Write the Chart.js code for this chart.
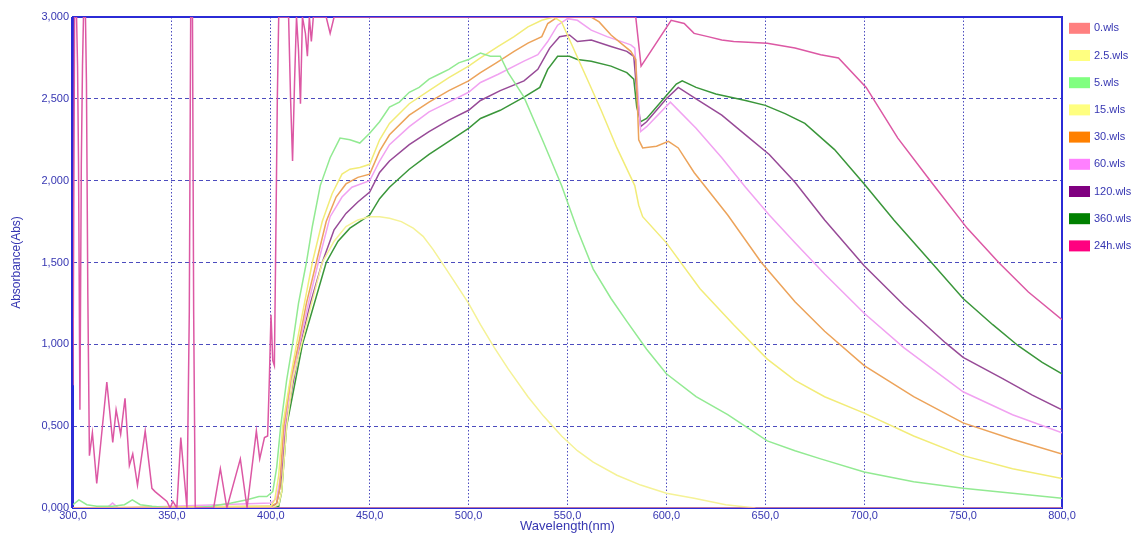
<!DOCTYPE html>
<html>
<head>
<meta charset="utf-8">
<script src="https://cdn.jsdelivr.net/npm/chart.js@4.4.0/dist/chart.umd.min.js"></script>
<style>
html, body { margin: 0; padding: 0; background: #fff; }
</style>
</head>
<body>
<canvas id="myChart" width="1136" height="535"></canvas>
<script>
// wavelength (nm) / absorbance pairs
const wl0 = [300, 800];
const abs0 = [0, 0];

const wl2_5 = [300, 350, 400, 404, 405.5, 408, 411, 415.5, 420, 426, 432, 438, 444, 450, 455, 460, 466, 472, 477, 482, 487, 493, 500, 506, 513, 520, 530, 538, 547, 555, 563, 575, 587, 600, 614, 630, 645];
const abs2_5 = [0, 0, 0, 0.02, 0.1, 0.5, 0.78, 1.0, 1.22, 1.5, 1.63, 1.72, 1.76, 1.78, 1.78, 1.77, 1.75, 1.71, 1.66, 1.58, 1.49, 1.38, 1.25, 1.12, 0.98, 0.85, 0.68, 0.56, 0.44, 0.35, 0.28, 0.20, 0.14, 0.09, 0.06, 0.02, 0];

const wl5 = [300, 303, 307, 312, 320, 326, 330, 334, 340, 350, 360, 370, 380, 388, 394, 398, 401, 403, 405, 408, 411, 414, 418, 421, 425, 430, 435, 440, 445, 450, 455, 460, 465, 470, 475, 480, 485, 490, 495, 500, 506, 511, 516, 520, 528, 538, 547, 555, 563, 572, 580, 590, 600, 615, 631, 651, 665, 678, 700, 725, 750, 775, 800];
const abs5 = [0.02, 0.05, 0.02, 0.01, 0.01, 0.02, 0.05, 0.02, 0.01, 0.0, 0.0, 0.01, 0.03, 0.05, 0.07, 0.07, 0.1, 0.25, 0.5, 0.78, 1.0, 1.25, 1.5, 1.72, 1.97, 2.14, 2.26, 2.25, 2.23, 2.29, 2.36, 2.45, 2.48, 2.54, 2.57, 2.62, 2.65, 2.68, 2.72, 2.74, 2.78, 2.76, 2.76, 2.66, 2.51, 2.23, 1.97, 1.70, 1.46, 1.28, 1.14, 0.97, 0.82, 0.68, 0.57, 0.41, 0.35, 0.30, 0.22, 0.16, 0.12, 0.09, 0.06];

const wl15 = [300, 400, 402, 404, 406, 410, 413, 417, 421, 426, 431, 436, 440, 445, 450, 455, 460, 470, 480, 490, 500, 506, 515, 523, 530, 537, 543, 547, 560, 567, 575, 584, 586, 588, 600, 617, 634, 651, 665, 680, 700, 725, 750, 775, 800];
const abs15 = [0, 0.01, 0.05, 0.2, 0.5, 0.8, 1.0, 1.25, 1.5, 1.75, 1.92, 2.04, 2.07, 2.08, 2.10, 2.25, 2.35, 2.47, 2.55, 2.63, 2.70, 2.75, 2.82, 2.88, 2.94, 2.98, 3.0, 2.97, 2.62, 2.43, 2.20, 1.97, 1.85, 1.78, 1.62, 1.34, 1.12, 0.91, 0.78, 0.68, 0.58, 0.44, 0.32, 0.24, 0.18];

const wl30 = [300, 400, 403, 404.5, 406.5, 410, 414, 418, 423, 428, 433, 438, 444, 450, 455, 460, 470, 480, 490, 500, 506, 514, 523, 530, 537, 540, 545, 562, 566, 572, 582, 584.5, 586, 588, 595, 601, 606, 614, 631, 648, 665, 680, 700, 725, 750, 775, 800];
const abs30 = [0, 0.01, 0.03, 0.12, 0.5, 0.78, 1.0, 1.25, 1.5, 1.75, 1.9, 1.98, 2.02, 2.04, 2.18, 2.28, 2.40, 2.48, 2.55, 2.61, 2.66, 2.72, 2.79, 2.84, 2.88, 2.96, 3.0, 3.0, 2.97, 2.89, 2.79, 2.74, 2.25, 2.20, 2.21, 2.24, 2.20, 2.05, 1.79, 1.50, 1.26, 1.08, 0.87, 0.68, 0.52, 0.42, 0.33];

const wl60 = [300, 317, 320, 323, 400, 403, 405, 407, 410, 414.5, 419, 424, 430, 436, 441, 450, 455, 460, 470, 480, 490, 500, 506, 515, 528, 535, 540, 545, 550, 555, 562, 570, 582, 584, 585.5, 587, 590, 602, 615, 628, 640, 652, 665, 680, 700, 720, 750, 775, 800];
const abs60 = [0, 0, 0.03, 0, 0.03, 0.06, 0.2, 0.5, 0.75, 1.0, 1.25, 1.5, 1.78, 1.90, 1.96, 2.0, 2.12, 2.22, 2.33, 2.42, 2.48, 2.54, 2.60, 2.65, 2.73, 2.77, 2.85, 2.95, 2.99, 2.98, 2.92, 2.88, 2.83, 2.81, 2.55, 2.30, 2.33, 2.48, 2.32, 2.14, 1.96, 1.79, 1.62, 1.43, 1.19, 0.98, 0.71, 0.57, 0.46];

const wl120 = [300, 400, 403, 405, 407.5, 411, 415, 420, 426, 432, 438, 444, 450, 455, 460, 470, 480, 490, 500, 506, 516, 528, 535, 541, 546, 551, 555, 562, 572, 580, 583.5, 585, 587, 590, 600, 606, 615, 628, 640, 652, 665, 680, 700, 720, 741, 750, 770, 785, 800];
const abs120 = [0, 0, 0.03, 0.15, 0.5, 0.75, 1.0, 1.25, 1.5, 1.70, 1.80, 1.87, 1.93, 2.05, 2.12, 2.22, 2.30, 2.37, 2.43, 2.49, 2.55, 2.61, 2.68, 2.81, 2.88, 2.89, 2.85, 2.86, 2.82, 2.79, 2.76, 2.55, 2.33, 2.36, 2.50, 2.57, 2.50, 2.40, 2.28, 2.16, 1.99, 1.76, 1.48, 1.24, 1.01, 0.92, 0.79, 0.69, 0.60];

const wl360 = [300, 400, 404, 405.5, 408, 412, 416, 422, 428, 434, 440, 445, 450, 455, 460, 470, 480, 490, 500, 506, 516, 528, 536, 540, 545, 551, 555, 562, 572, 580, 583.5, 585, 587, 590, 600, 605, 608, 615, 625, 640, 650, 660, 670, 685, 700, 715, 734, 750, 765, 778, 790, 800];
const abs360 = [0, 0, 0.01, 0.1, 0.5, 0.75, 1.0, 1.25, 1.5, 1.63, 1.71, 1.75, 1.79, 1.89, 1.96, 2.07, 2.16, 2.24, 2.32, 2.38, 2.43, 2.51, 2.57, 2.68, 2.76, 2.76, 2.74, 2.73, 2.70, 2.66, 2.62, 2.45, 2.36, 2.38, 2.52, 2.59, 2.61, 2.57, 2.53, 2.49, 2.46, 2.41, 2.35, 2.19, 1.98, 1.76, 1.50, 1.28, 1.12, 0.99, 0.89, 0.82];

const wl24h = [300, 300.8, 301.8, 302.3, 302.8, 303.5, 304.2, 304.8, 305.3, 306.3, 306.8, 307.5, 308.3, 309.8, 312, 317.1, 320.1, 321.8, 324.1, 326.3, 328.5, 330.2, 332.6, 336.5, 339.9, 341.5, 347.5, 349.1, 350.5, 352.5, 354.5, 357.6, 358.8, 359.5, 360.4, 361, 361.8, 371.1, 374.5, 377.8, 384.6, 388, 392.7, 394.4, 396.8, 398.4, 399.3, 400.1, 401, 401.8, 402.5, 403.3, 404, 409, 410, 411, 412, 413, 414, 415, 416, 417.5, 418.5, 419.5, 420.5, 421.5, 428, 430, 432, 584.5, 587.2, 602.4, 609, 614, 621, 628, 634, 651, 665, 678, 687, 701, 717, 734, 752, 768, 783, 800];
const abs24h = [0.75, 3.0, 3.0, 2.7, 2.1, 0.6, 2.1, 2.7, 3.0, 3.0, 2.6, 1.3, 0.32, 0.46, 0.15, 0.77, 0.40, 0.60, 0.45, 0.67, 0.26, 0.33, 0.14, 0.47, 0.12, 0.10, 0.04, 0.0, 0.04, 0.0, 0.43, 0.0, 1.2, 3.0, 3.0, 1.2, 0.0, 0.0, 0.24, 0.0, 0.30, 0.0, 0.47, 0.30, 0.43, 0.44, 0.8, 1.18, 0.9, 0.87, 1.6, 2.5, 3.0, 3.0, 2.5, 2.12, 2.6, 3.0, 2.8, 2.47, 3.0, 2.9, 2.76, 3.0, 2.85, 3.0, 3.0, 2.9, 3.0, 3.0, 2.70, 2.98, 2.96, 2.90, 2.88, 2.86, 2.85, 2.84, 2.81, 2.77, 2.75, 2.57, 2.26, 1.99, 1.71, 1.50, 1.32, 1.15];

const labels = ['0.wls', '2.5.wls', '5.wls', '15.wls', '30.wls', '60.wls', '120.wls', '360.wls', '24h.wls'];
const xs = [wl0, wl2_5, wl5, wl15, wl30, wl60, wl120, wl360, wl24h];
const ys = [abs0, abs2_5, abs5, abs15, abs30, abs60, abs120, abs360, abs24h];

const lineColors = ['#f09090', '#f5f296', '#92ea92', '#f2ec78', '#eca35a', '#f1a2f1', '#974a97', '#3a963a', '#dc58a4'];
const swatchColors = ['#ff8080', '#ffff80', '#80ff80', '#ffff80', '#ff8000', '#ff80ff', '#800080', '#008000', '#ff0080'];

const FONT = '"Liberation Sans", Arial, sans-serif';
const BLUE_TEXT = '#3636b2';

const datasets = labels.map((lab, i) => ({
  label: lab,
  data: xs[i].map((w, k) => ({x: w, y: ys[i][k]})),
  borderColor: lineColors[i],
  backgroundColor: swatchColors[i],
  borderWidth: 1.5,
  pointRadius: 0,
  tension: 0,
  fill: false,
  order: i === 8 ? 0 : 1
}));

// plot frame drawn under the curves
const framePlugin = {
  id: 'frame',
  beforeDatasetsDraw(chart) {
    const {ctx, chartArea: a} = chart;
    ctx.save();
    ctx.strokeStyle = '#2b2bd6';
    ctx.lineWidth = 2;
    ctx.strokeRect(a.left, a.top, a.right - a.left, a.bottom - a.top);
    ctx.lineWidth = 3;
    ctx.beginPath();
    ctx.moveTo(a.left - 0.5, a.top);
    ctx.lineTo(a.left - 0.5, a.bottom);
    ctx.stroke();
    ctx.restore();
  }
};

// legend column on the right
const sideLegend = {
  id: 'sideLegend',
  afterDraw(chart) {
    const ctx = chart.ctx;
    ctx.save();
    ctx.font = '11px ' + FONT;
    ctx.textBaseline = 'middle';
    chart.data.datasets.forEach((ds, i) => {
      const y = 28.3 + i * 27.2;
      ctx.fillStyle = swatchColors[i];
      ctx.fillRect(1069, y - 5.5, 21, 11);
      ctx.fillStyle = BLUE_TEXT;
      ctx.fillText(ds.label, 1094, y);
    });
    ctx.restore();
  }
};

const config = {
  type: 'line',
  data: {datasets: datasets},
  options: {
    responsive: false,
    animation: false,
    devicePixelRatio: 1,
    layout: {padding: {left: 0, top: 17, right: 74, bottom: 0}},
    plugins: {
      legend: {display: false},
      tooltip: {enabled: false}
    },
    scales: {
      x: {
        type: 'linear',
        min: 300,
        max: 800,
        afterFit(scale) { scale.height = 27; },
        ticks: {
          stepSize: 50,
          autoSkip: false,
          maxRotation: 0,
          padding: 1,
          color: BLUE_TEXT,
          font: {family: FONT, size: 11},
          callback: v => v.toFixed(1).replace('.', ',')
        },
        grid: {color: '#4c4cbe', lineWidth: 1, drawTicks: false},
        border: {display: false, dash: [1.5, 2]},
        title: {
          display: true,
          text: 'Wavelength(nm)',
          color: BLUE_TEXT,
          font: {family: FONT, size: 13},
          padding: {top: 0, bottom: 1}
        }
      },
      y: {
        min: 0,
        max: 3,
        afterFit(scale) { scale.width = 73; },
        ticks: {
          stepSize: 0.5,
          padding: 4,
          color: BLUE_TEXT,
          font: {family: FONT, size: 11},
          callback: v => v.toFixed(3).replace('.', ',')
        },
        grid: {color: '#4c4cbe', lineWidth: 1, drawTicks: false},
        border: {display: false, dash: [4, 3]},
        title: {
          display: true,
          text: 'Absorbance(Abs)',
          color: BLUE_TEXT,
          font: {family: FONT, size: 12},
          padding: {top: 9, bottom: 0}
        }
      }
    }
  },
  plugins: [framePlugin, sideLegend]
};

var myChart = new Chart(document.getElementById('myChart'), config);
</script>
</body>
</html>
